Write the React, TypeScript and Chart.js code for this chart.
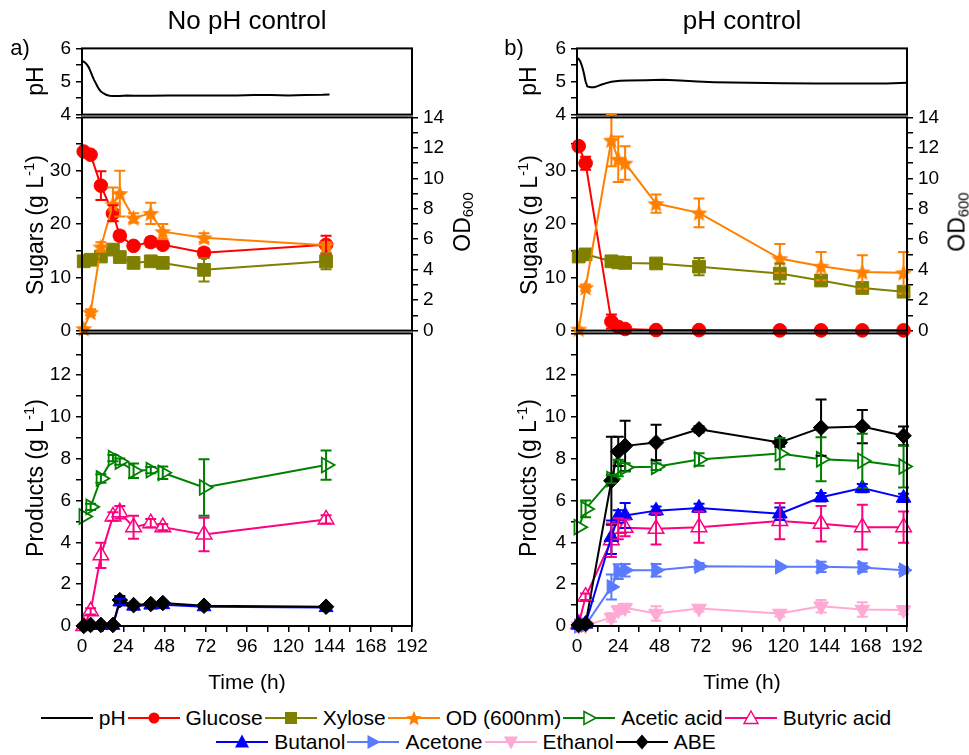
import React, { useEffect, useRef } from 'react';
import { Chart, registerables } from 'chart.js';

Chart.register(...registerables);

const FONT = "'Liberation Sans', Arial, Helvetica, sans-serif";
Chart.defaults.font.family = FONT;
Chart.defaults.font.size = 19;
Chart.defaults.color = '#000';

// ---------------- Data: a) No pH control ----------------
const timeA = [1, 5, 11, 18, 22, 30, 40, 47, 71, 142];
const glucoseA = [33.6, 33.0, 27.2, 22.0, 17.8, 15.9, 16.6, 16.1, 14.6, 16.1];
const glucoseErrA = [0.4, 0.4, 2.7, 1.5, 0.8, 0.5, 0.8, 0.6, 0.8, 1.7];
const xyloseA = [13.0, 13.3, 13.9, 15.2, 13.8, 12.7, 13.0, 12.7, 11.4, 13.0];
const xyloseErrA = [0.4, 0.4, 0.5, 0.6, 0.5, 0.4, 0.4, 0.4, 2.2, 1.5];
const odA = [0.13, 1.2, 5.5, 8.3, 9.0, 7.4, 7.7, 6.5, 6.1, 5.6];
const odErrA = [0.05, 0.2, 0.3, 1.1, 1.5, 0.3, 0.7, 0.5, 0.3, 0.2];
const aceticA = [5.24, 5.7, 7.06, 8.03, 7.87, 7.43, 7.46, 7.33, 6.63, 7.7];
const aceticErrA = [0.1, 0.15, 0.2, 0.15, 0.15, 0.35, 0.15, 0.3, 1.35, 0.7];
const butyricA = [0, 0.7, 3.38, 5.24, 5.44, 4.73, 4.92, 4.73, 4.38, 5.1];
const butyricErrA = [0, 0.15, 0.6, 0.2, 0.3, 0.55, 0.2, 0.15, 0.8, 0.2];
const butanolA = [0, 0.03, 0.03, 0.03, 1.15, 0.95, 1.0, 1.02, 0.92, 0.88];
const butanolErrA = [0, 0, 0, 0, 0.15, 0.1, 0.1, 0.1, 0.1, 0.1];
const abeA = [0, 0.05, 0.05, 0.05, 1.24, 1.0, 1.05, 1.1, 0.97, 0.92];
const abeErrA = [0, 0, 0, 0, 0.2, 0.1, 0.1, 0.1, 0.1, 0.1];
const pHTimeA = [0, 1, 2, 3, 4, 5, 6, 7, 8, 9, 10, 11, 12, 14, 16, 18, 22, 26, 30, 40, 50, 60, 70, 80, 90, 100, 110, 120, 130, 140, 144];
const pHA = [5.62, 5.6, 5.56, 5.5, 5.42, 5.3, 5.17, 5.05, 4.95, 4.85, 4.76, 4.7, 4.66, 4.6, 4.57, 4.56, 4.56, 4.58, 4.57, 4.57, 4.58, 4.58, 4.58, 4.58, 4.58, 4.59, 4.59, 4.58, 4.59, 4.6, 4.61];

// ---------------- Data: b) pH control ----------------
const timeB = [1, 5, 20, 24, 28, 46, 71, 118, 142, 166, 190];
const glucoseB = [34.6, 31.4, 1.7, 0.7, 0.3, 0.1, 0.1, 0.05, 0.05, 0.05, 0.05];
const glucoseErrB = [0.5, 1.2, 1.3, 0.3, 0.2, 0, 0, 0, 0, 0, 0];
const xyloseB = [13.9, 14.3, 13.0, 12.8, 12.7, 12.6, 12.0, 10.7, 9.4, 8.0, 7.3];
const xyloseErrB = [0.4, 0.4, 0.3, 0.3, 0.3, 0.5, 1.6, 1.9, 0.7, 0.8, 0.8];
const odB = [0.1, 2.83, 12.5, 11.25, 11.0, 8.34, 7.73, 4.73, 4.23, 3.85, 3.8];
const odErrB = [0.05, 0.2, 1.7, 1.5, 1.1, 0.6, 0.95, 0.95, 0.93, 1.1, 1.36];
const aceticB = [4.73, 5.6, 7.03, 7.56, 7.59, 7.62, 7.97, 8.25, 7.98, 7.9, 7.63];
const aceticErrB = [0.1, 0.4, 0.2, 0.4, 0.2, 0.15, 0.3, 0.75, 1.05, 1.3, 1.0];
const butyricB = [0.1, 1.4, 4.1, 4.65, 4.7, 4.65, 4.73, 5.02, 4.89, 4.73, 4.73];
const butyricErrB = [0.05, 0.15, 0.8, 0.5, 0.4, 0.75, 0.75, 0.87, 0.85, 1.07, 0.75];
const butanolB = [0.05, 0.1, 4.25, 5.24, 5.29, 5.52, 5.65, 5.37, 6.16, 6.6, 6.13];
const butanolErrB = [0, 0.05, 0.8, 0.3, 0.6, 0.2, 0.2, 0.3, 0.2, 0.2, 0.2];
const acetoneB = [0, 0.05, 1.87, 2.6, 2.67, 2.67, 2.86, 2.83, 2.83, 2.8, 2.67];
const acetoneErrB = [0, 0, 0.6, 0.35, 0.3, 0.3, 0.15, 0.1, 0.25, 0.2, 0.15];
const ethanolB = [0, 0.02, 0.41, 0.76, 0.87, 0.6, 0.84, 0.6, 0.95, 0.79, 0.76];
const ethanolErrB = [0, 0, 0.2, 0.2, 0.2, 0.35, 0.15, 0.15, 0.3, 0.35, 0.2];
const abeB = [0.05, 0.1, 6.95, 8.35, 8.62, 8.78, 9.41, 8.78, 9.49, 9.54, 9.1];
const abeErrB = [0, 0.05, 2.1, 0.7, 1.2, 0.85, 0.15, 0.2, 1.35, 0.8, 0.45];
const pHTimeB = [0, 1, 2, 3, 4, 5, 6, 8, 10, 12, 14, 17, 20, 25, 30, 40, 50, 60, 70, 80, 90, 100, 120, 140, 160, 180, 192];
const pHB = [5.72, 5.68, 5.6, 5.45, 5.25, 5.0, 4.85, 4.83, 4.83, 4.86, 4.9, 4.95, 4.99, 5.02, 5.03, 5.04, 5.05, 5.03, 5.0, 4.98, 4.97, 4.96, 4.95, 4.94, 4.94, 4.94, 4.96];

// axis ticks
const timeTicks = [0, 24, 48, 72, 96, 120, 144, 168, 192];

// colours
const C = {
  pH: '#000000',
  glucose: '#ff0000',
  xylose: '#808000',
  od: '#ff8000',
  acetic: '#008000',
  butyric: '#ff0080',
  butanol: '#0000ff',
  acetone: '#5b7bff',
  ethanol: '#ffaad4',
  abe: '#000000',
};

function makeStar(color: string, size: number) {
  const c = document.createElement('canvas');
  c.width = size;
  c.height = size;
  const ctx = c.getContext('2d')!;
  const cx = size / 2, cy = size / 2 + 0.8, R = size / 2 - 0.5, r = R * 0.45;
  ctx.beginPath();
  for (let i = 0; i < 10; i++) {
    const ang = -Math.PI / 2 + (i * Math.PI) / 5;
    const rad = i % 2 === 0 ? R : r;
    ctx.lineTo(cx + rad * Math.cos(ang), cy + rad * Math.sin(ang));
  }
  ctx.closePath();
  ctx.fillStyle = color;
  ctx.fill();
  return c;
}

const framePlugin = {
  id: 'frame',
  afterDraw(chart: any) {
    const { ctx, chartArea: a } = chart;
    ctx.save();
    ctx.strokeStyle = '#000';
    ctx.lineWidth = 2;
    ctx.strokeRect(a.left, a.top, a.right - a.left, a.bottom - a.top);
    ctx.restore();
  },
};

const errPlugin = {
  id: 'errbars',
  afterDatasetsDraw(chart: any) {
    const ctx = chart.ctx;
    chart.data.datasets.forEach((ds: any, i: number) => {
      const errs = ds.errors;
      if (!errs) return;
      const meta = chart.getDatasetMeta(i);
      const ys = chart.scales[ds.yAxisID];
      ctx.save();
      ctx.strokeStyle = ds.borderColor;
      ctx.lineWidth = 2;
      meta.data.forEach((pt: any, j: number) => {
        const e = errs[j];
        if (!e || e < 0.12) return;
        const v = ds.data[j].y;
        const yt = ys.getPixelForValue(v + e);
        const yb = ys.getPixelForValue(v - e);
        const x = pt.x;
        ctx.beginPath();
        ctx.moveTo(x, yt);
        ctx.lineTo(x, yb);
        ctx.moveTo(x - 5.5, yt);
        ctx.lineTo(x + 5.5, yt);
        ctx.moveTo(x - 5.5, yb);
        ctx.lineTo(x + 5.5, yb);
        ctx.stroke();
      });
      ctx.restore();
    });
  },
};

type Style = { color: string; point: any; r: number; rot?: number; fill?: string; pbw?: number; axis: string };

function series(label: string, xs: number[], ys: number[], errs: number[] | null, s: Style) {
  return {
    label,
    data: xs.map((x, i) => ({ x, y: ys[i] })),
    errors: errs,
    borderColor: s.color,
    backgroundColor: s.fill ?? s.color,
    pointBorderColor: s.color,
    pointBackgroundColor: s.fill ?? s.color,
    pointStyle: s.point,
    pointRadius: s.r,
    pointRotation: s.rot ?? 0,
    pointBorderWidth: s.pbw ?? 1,
    borderWidth: 2,
    yAxisID: s.axis,
    tension: 0,
    fill: false,
    clip: false,
  };
}

function yAxis(pos: 'left' | 'right', min: number, max: number, step: number, show: (v: number) => boolean, width: number) {
  return {
    type: 'linear',
    position: pos,
    min,
    max,
    afterFit: (sc: any) => {
      sc.width = width;
    },
    ticks: {
      stepSize: step,
      autoSkip: false,
      padding: 5,
      font: { size: 19, family: FONT },
      color: '#000',
      callback: (v: any) => (show(Number(v)) ? String(Number(v)) : ''),
    },
    grid: { drawOnChartArea: false, tickLength: 6, color: '#000', lineWidth: 1.5 },
    border: { display: false },
  };
}

function xAxis(display: boolean) {
  const ax: any = {
    type: 'linear',
    min: 0,
    max: 192,
    display,
    ticks: {
      stepSize: 12,
      autoSkip: false,
      maxRotation: 0,
      padding: 3,
      font: { size: 19, family: FONT },
      color: '#000',
      callback: (v: any) => (timeTicks.includes(Number(v)) ? String(Number(v)) : ''),
    },
    grid: { drawOnChartArea: false, tickLength: 6, color: '#000', lineWidth: 1.5 },
    border: { display: false },
  };
  if (display) {
    ax.afterFit = (sc: any) => {
      sc.height = 70;
    };
  }
  return ax;
}

function baseOptions(scales: any, padding: any) {
  return {
    responsive: false,
    animation: false,
    events: [],
    layout: { padding },
    plugins: { legend: { display: false }, tooltip: { enabled: false } },
    scales,
  };
}

function phConfig(ts: number[], vs: number[], leftW: number, rightW: number) {
  return {
    type: 'line',
    data: {
      datasets: [
        { label: 'pH', data: ts.map((t, i) => ({ x: t, y: vs[i] })), borderColor: C.pH, borderWidth: 2, pointRadius: 0, yAxisID: 'y', tension: 0 },
      ],
    },
    options: baseOptions(
      { x: xAxis(false), y: yAxis('left', 4, 6, 0.5, (v) => Number.isInteger(v), leftW) },
      { top: 15, bottom: 15, left: 0, right: rightW }
    ),
    plugins: [framePlugin],
  };
}

function sugarConfig(col: 'A' | 'B', leftW: number, rightW: number) {
  const star = makeStar(C.od, 19);
  const t = col === 'A' ? timeA : timeB;
  const ds =
    col === 'A'
      ? [
          series('OD (600nm)', t, odA, odErrA, { color: C.od, point: star, r: 8, axis: 'y2' }),
          series('Glucose', t, glucoseA, glucoseErrA, { color: C.glucose, point: 'circle', r: 6.8, axis: 'y' }),
          series('Xylose', t, xyloseA, xyloseErrA, { color: C.xylose, point: 'rect', r: 9, axis: 'y' }),
        ]
      : [
          series('OD (600nm)', t, odB, odErrB, { color: C.od, point: star, r: 8, axis: 'y2' }),
          series('Glucose', t, glucoseB, glucoseErrB, { color: C.glucose, point: 'circle', r: 6.8, axis: 'y' }),
          series('Xylose', t, xyloseB, xyloseErrB, { color: C.xylose, point: 'rect', r: 9, axis: 'y' }),
        ];
  return {
    type: 'line',
    data: { datasets: ds },
    options: baseOptions(
      {
        x: xAxis(false),
        y: yAxis('left', 0, 40, 5, (v) => v % 10 === 0 && v < 40, leftW),
        y2: yAxis('right', 0, 14, 1, (v) => v % 2 === 0, rightW),
      },
      { top: 15, bottom: 15, left: 0, right: 0 }
    ),
    plugins: [errPlugin, framePlugin],
  };
}

function prodConfig(col: 'A' | 'B', leftW: number, rightW: number) {
  const t = col === 'A' ? timeA : timeB;
  const ds =
    col === 'A'
      ? [
          series('ABE', t, abeA, abeErrA, { color: C.abe, point: 'rectRot', r: 7.8, axis: 'y' }),
          series('Acetic acid', t, aceticA, aceticErrA, { color: C.acetic, point: 'triangle', rot: 90, r: 8.5, fill: '#fff', pbw: 1.8, axis: 'y' }),
          series('Butyric acid', t, butyricA, butyricErrA, { color: C.butyric, point: 'triangle', r: 9, fill: '#fff', pbw: 1.5, axis: 'y' }),
          series('Butanol', t, butanolA, butanolErrA, { color: C.butanol, point: 'triangle', r: 8, axis: 'y' }),
        ]
      : [
          series('ABE', t, abeB, abeErrB, { color: C.abe, point: 'rectRot', r: 7.8, axis: 'y' }),
          series('Acetic acid', t, aceticB, aceticErrB, { color: C.acetic, point: 'triangle', rot: 90, r: 8.5, fill: '#fff', pbw: 1.8, axis: 'y' }),
          series('Butanol', t, butanolB, butanolErrB, { color: C.butanol, point: 'triangle', r: 8.5, axis: 'y' }),
          series('Butyric acid', t, butyricB, butyricErrB, { color: C.butyric, point: 'triangle', r: 9, fill: '#fff', pbw: 1.5, axis: 'y' }),
          series('Acetone', t, acetoneB, acetoneErrB, { color: C.acetone, point: 'triangle', rot: 90, r: 8.5, axis: 'y' }),
          series('Ethanol', t, ethanolB, ethanolErrB, { color: C.ethanol, point: 'triangle', rot: 180, r: 8.5, axis: 'y' }),
        ];
  return {
    type: 'line',
    data: { datasets: ds },
    options: baseOptions(
      { x: xAxis(true), y: yAxis('left', 0, 14, 1, (v) => v % 2 === 0 && v < 14, leftW) },
      { top: 15, bottom: 0, left: 0, right: rightW }
    ),
    plugins: [errPlugin, framePlugin],
  };
}

function ChartPanel({ left, top, width, height, build }: { left: number; top: number; width: number; height: number; build: () => any }) {
  const ref = useRef<HTMLCanvasElement | null>(null);
  useEffect(() => {
    const chart = new Chart(ref.current as HTMLCanvasElement, build());
    return () => chart.destroy();
  }, []);
  return <canvas ref={ref} width={width} height={height} style={{ position: 'absolute', left, top, width, height }} />;
}

function Label({ x, y, size, rot, children }: { x: number; y: number; size: number; rot?: boolean; children: any }) {
  return (
    <div
      style={{
        position: 'absolute',
        left: x,
        top: y,
        transform: 'translate(-50%, -50%)' + (rot ? ' rotate(-90deg)' : ''),
        fontSize: size,
        lineHeight: 1,
        whiteSpace: 'nowrap',
      }}
    >
      {children}
    </div>
  );
}

function Marker({ kind, color }: { kind: string; color: string }) {
  const cx = 27, cy = 11;
  let m: any = null;
  if (kind === 'circle') m = <circle cx={cx} cy={cy} r={5.5} fill={color} />;
  else if (kind === 'square') m = <rect x={cx - 6} y={cy - 6} width={12} height={12} fill={color} />;
  else if (kind === 'star') {
    const pts: string[] = [];
    for (let i = 0; i < 10; i++) {
      const a = -Math.PI / 2 + (i * Math.PI) / 5;
      const r = i % 2 === 0 ? 8 : 3.5;
      pts.push(`${cx + r * Math.cos(a)},${cy + 0.8 + r * Math.sin(a)}`);
    }
    m = <polygon points={pts.join(' ')} fill={color} />;
  } else if (kind === 'rightOpen') m = <polygon points={`${cx - 5},${cy - 6.5} ${cx + 7},${cy} ${cx - 5},${cy + 6.5}`} fill="#fff" stroke={color} strokeWidth={1.6} />;
  else if (kind === 'upOpen') m = <polygon points={`${cx},${cy - 7} ${cx + 7},${cy + 5.5} ${cx - 7},${cy + 5.5}`} fill="#fff" stroke={color} strokeWidth={1.4} />;
  else if (kind === 'up') m = <polygon points={`${cx},${cy - 7.5} ${cx + 7},${cy + 5.5} ${cx - 7},${cy + 5.5}`} fill={color} />;
  else if (kind === 'right') m = <polygon points={`${cx - 5.5},${cy - 7} ${cx + 7.5},${cy} ${cx - 5.5},${cy + 7}`} fill={color} />;
  else if (kind === 'down') m = <polygon points={`${cx},${cy + 7.5} ${cx + 7},${cy - 5.5} ${cx - 7},${cy - 5.5}`} fill={color} />;
  else if (kind === 'diamond') m = <polygon points={`${cx},${cy - 7.5} ${cx + 6.5},${cy} ${cx},${cy + 7.5} ${cx - 6.5},${cy}`} fill={color} />;
  return (
    <svg width={54} height={22} style={{ display: 'block', flex: 'none' }}>
      <line x1={1} y1={cy} x2={53} y2={cy} stroke={color} strokeWidth={2.2} />
      {m}
    </svg>
  );
}

const legendRow1 = [
  { label: 'pH', kind: 'none', color: C.pH },
  { label: 'Glucose', kind: 'circle', color: C.glucose },
  { label: 'Xylose', kind: 'square', color: C.xylose },
  { label: 'OD (600nm)', kind: 'star', color: C.od },
  { label: 'Acetic acid', kind: 'rightOpen', color: C.acetic },
  { label: 'Butyric acid', kind: 'upOpen', color: C.butyric },
];
const legendRow2 = [
  { label: 'Butanol', kind: 'up', color: C.butanol },
  { label: 'Acetone', kind: 'right', color: C.acetone },
  { label: 'Ethanol', kind: 'down', color: C.ethanol },
  { label: 'ABE', kind: 'diamond', color: C.abe },
];

function LegendRow({ items, top }: { items: any[]; top: number }) {
  return (
    <div style={{ position: 'absolute', left: 0, width: 932, top, display: 'flex', justifyContent: 'center', alignItems: 'center', fontSize: 21, lineHeight: '24px' }}>
      {items.map((it) => (
        <div key={it.label} style={{ display: 'flex', alignItems: 'center', marginRight: 1 }}>
          <Marker kind={it.kind} color={it.color} />
          <span style={{ marginLeft: 5, whiteSpace: 'nowrap' }}>{it.label}</span>
        </div>
      ))}
    </div>
  );
}

export default function App() {
  // column geometry: A plot 82..412, B plot 577..907; rows pH 47..116, sugars 116..332, products 332..626
  return (
    <div style={{ position: 'absolute', left: 0, top: 0, width: 969, height: 755, background: '#fff', fontFamily: FONT, color: '#000', overflow: 'hidden' }}>
      <ChartPanel left={0} top={32} width={480} height={99} build={() => phConfig(pHTimeA, pHA, 82, 68)} />
      <ChartPanel left={0} top={101} width={480} height={246} build={() => sugarConfig('A', 82, 68)} />
      <ChartPanel left={0} top={317} width={480} height={379} build={() => prodConfig('A', 82, 68)} />
      <ChartPanel left={480} top={32} width={489} height={99} build={() => phConfig(pHTimeB, pHB, 97, 62)} />
      <ChartPanel left={480} top={101} width={489} height={246} build={() => sugarConfig('B', 97, 62)} />
      <ChartPanel left={480} top={317} width={489} height={379} build={() => prodConfig('B', 97, 62)} />

      <Label x={247} y={20} size={26}>No pH control</Label>
      <Label x={742} y={20} size={26}>pH control</Label>
      <Label x={20} y={48} size={22}>a)</Label>
      <Label x={514} y={48} size={22}>b)</Label>

      <Label x={35} y={81} size={23} rot>pH</Label>
      <Label x={35} y={225} size={23} rot>
        Sugars (g L<sup style={{ fontSize: '0.65em', verticalAlign: '0.6em', lineHeight: 0 }}>-1</sup>)
      </Label>
      <Label x={35} y={478} size={23} rot>
        Products (g L<sup style={{ fontSize: '0.65em', verticalAlign: '0.6em', lineHeight: 0 }}>-1</sup>)
      </Label>
      <Label x={462} y={222} size={23} rot>
        OD<sub style={{ fontSize: '0.65em', verticalAlign: '-0.25em', lineHeight: 0 }}>600</sub>
      </Label>
      <Label x={247} y={681} size={21}>Time (h)</Label>

      <Label x={528} y={81} size={23} rot>pH</Label>
      <Label x={529} y={225} size={23} rot>
        Sugars (g L<sup style={{ fontSize: '0.65em', verticalAlign: '0.6em', lineHeight: 0 }}>-1</sup>)
      </Label>
      <Label x={528} y={478} size={23} rot>
        Products (g L<sup style={{ fontSize: '0.65em', verticalAlign: '0.6em', lineHeight: 0 }}>-1</sup>)
      </Label>
      <Label x={957} y={222} size={23} rot>
        OD<sub style={{ fontSize: '0.65em', verticalAlign: '-0.25em', lineHeight: 0 }}>600</sub>
      </Label>
      <Label x={742} y={681} size={21}>Time (h)</Label>

      <LegendRow items={legendRow1} top={706} />
      <LegendRow items={legendRow2} top={730} />
    </div>
  );
}
